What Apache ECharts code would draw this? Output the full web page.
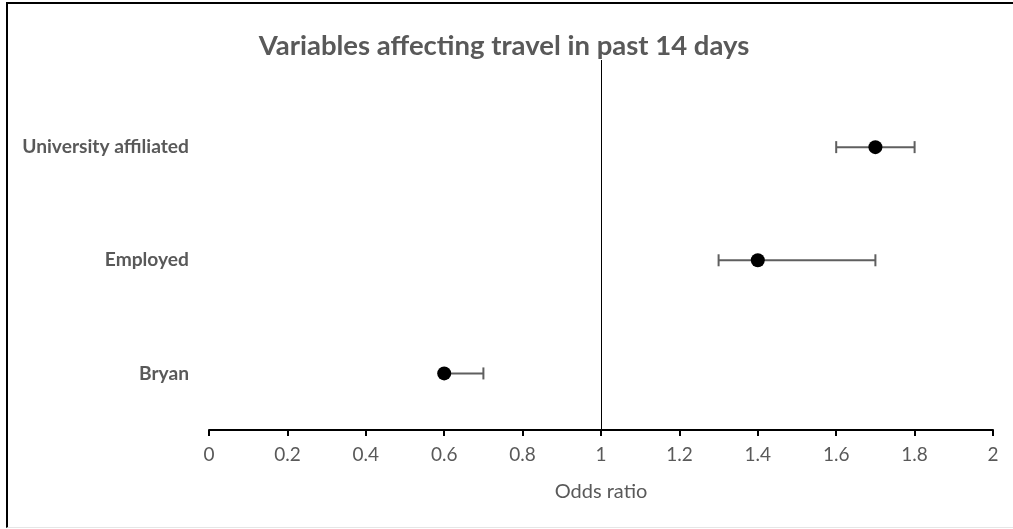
<!DOCTYPE html>
<html>
<head>
<meta charset="utf-8">
<script src="https://cdn.jsdelivr.net/npm/echarts@6/dist/echarts.min.js"></script>
<style>
  html, body { margin: 0; padding: 0; background: #fff; }
  #wrap { position: relative; width: 1013px; height: 529px; }
  #frame {
    position: absolute; left: 6px; top: 2px; right: 0; bottom: 1px;
    border-left: 2px solid #000; border-top: 2px solid #000;
    border-bottom: 1px solid #e6e6e6;
    pointer-events: none;
  }
  #chart { position: absolute; left: 0; top: 0; width: 1013px; height: 529px; }
</style>
</head>
<body>
<div id="wrap">
  <div id="chart"></div>
  <div id="frame"></div>
</div>
<script>
// categories, bottom to top
const categories = ['Bryan', 'Employed', 'University affiliated']
const oddsRatio = [0.6, 1.4, 1.7]
const ciLower = [0.6, 1.3, 1.6]
const ciUpper = [0.7, 1.7, 1.8]
const refValue = 1

const textGray = '#595959'
const barGray = '#5f5f5f'

// each category sits in the middle of its own unit band
const rowPos = categories.map((c, i) => i + 0.5)

const chart = echarts.init(document.getElementById('chart'))

const option = {
  animation: false,
  title: {
    text: 'Variables affecting travel in past 14 days',
    left: 499,
    textAlign: 'center',
    top: 27,
    textStyle: {
      fontFamily: 'Lato',
      fontSize: 27.5,
      fontWeight: 'bold',
      color: textGray
    }
  },
  grid: {
    left: 209,
    right: 20,
    top: 60,
    bottom: 99
  },
  xAxis: {
    type: 'value',
    min: 0,
    max: 2,
    interval: 0.2,
    name: 'Odds ratio',
    nameLocation: 'middle',
    nameGap: 52,
    nameTextStyle: {
      fontFamily: 'Lato',
      fontSize: 20,
      color: textGray
    },
    axisLine: { show: true, onZero: false, lineStyle: { color: '#000', width: 2 } },
    axisTick: { show: true, length: 6, lineStyle: { color: '#000', width: 2 } },
    splitLine: { show: false },
    axisLabel: {
      margin: 15,
      fontFamily: 'Lato',
      fontSize: 19,
      color: textGray,
      formatter: v => String(Math.round(v * 10) / 10)
    }
  },
  yAxis: {
    type: 'value',
    min: 0,
    max: 3.27,
    interval: 0.5,
    axisLine: { show: false },
    axisTick: { show: false },
    splitLine: { show: false },
    axisLabel: {
      margin: 20,
      fontFamily: 'Lato',
      fontSize: 19.2,
      fontWeight: 'bold',
      color: textGray,
      showMaxLabel: false,
      formatter: v => {
        const i = rowPos.findIndex(p => Math.abs(p - v) < 1e-6)
        return i >= 0 ? categories[i] : ''
      }
    }
  },
  series: [
    {
      type: 'custom',
      name: 'CI',
      z: 2,
      data: categories.map((c, i) => [ciLower[i], ciUpper[i], rowPos[i]]),
      renderItem: (params, api) => {
        const lo = api.coord([api.value(0), api.value(2)])
        const hi = api.coord([api.value(1), api.value(2)])
        const h = 6
        const style = { stroke: barGray, lineWidth: 2 }
        return {
          type: 'group',
          children: [
            { type: 'line', shape: { x1: lo[0], y1: lo[1], x2: hi[0], y2: hi[1] }, style },
            { type: 'line', shape: { x1: lo[0], y1: lo[1] - h, x2: lo[0], y2: lo[1] + h }, style },
            { type: 'line', shape: { x1: hi[0], y1: hi[1] - h, x2: hi[0], y2: hi[1] + h }, style }
          ]
        }
      }
    },
    {
      type: 'scatter',
      name: 'Odds ratio',
      z: 3,
      symbol: 'circle',
      symbolSize: 14,
      itemStyle: { color: '#000', opacity: 1 },
      data: categories.map((c, i) => [oddsRatio[i], rowPos[i]]),
      markLine: {
        silent: true,
        symbol: 'none',
        label: { show: false },
        lineStyle: { color: '#000', width: 1, type: 'solid' },
        data: [{ xAxis: refValue }]
      }
    }
  ]
}

chart.setOption(option)
</script>
</body>
</html>
